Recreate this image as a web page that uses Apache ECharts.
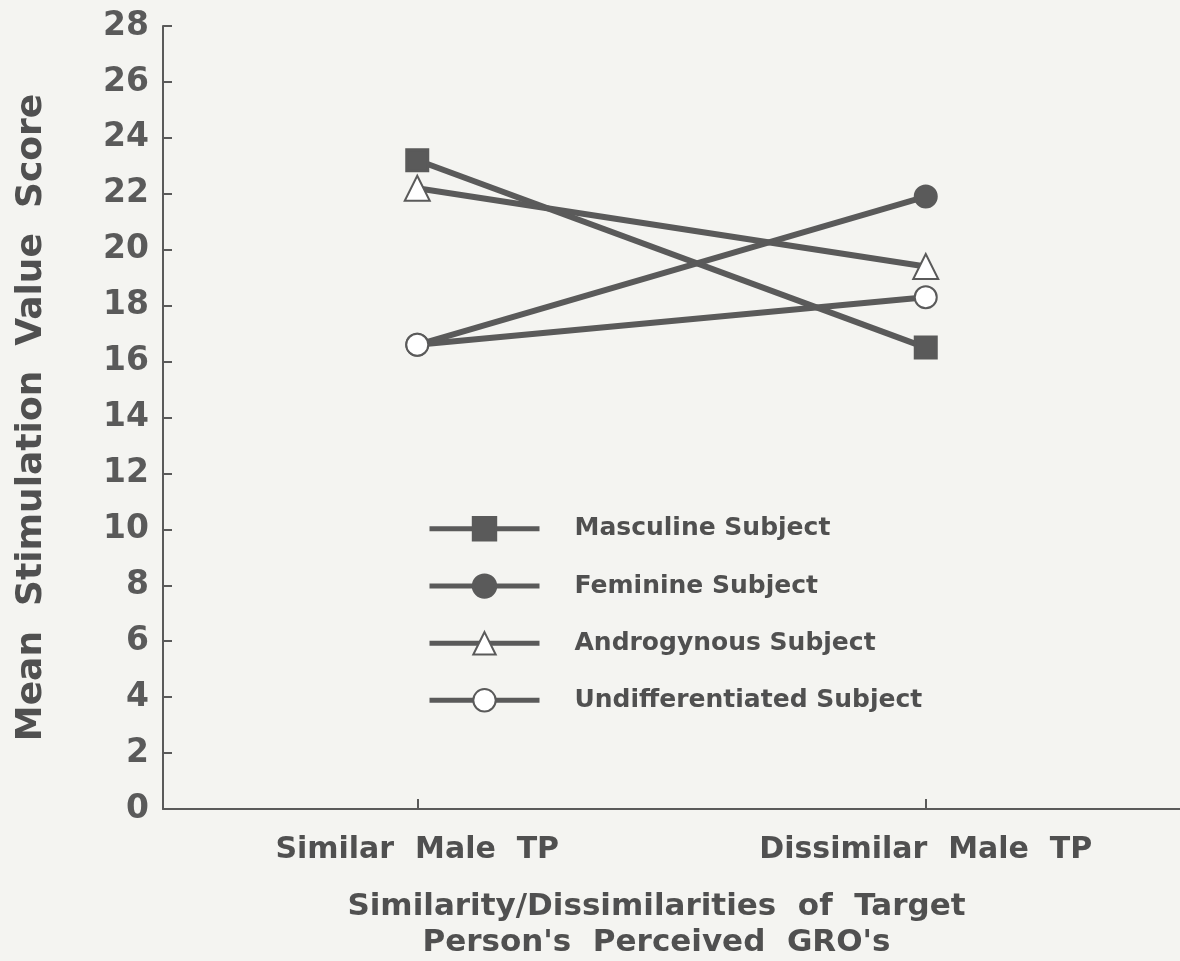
<!DOCTYPE html>
<html>
<head>
<meta charset="utf-8">
<script src="https://cdn.jsdelivr.net/npm/echarts@6/dist/echarts.min.js"></script>
<style>
  html, body { margin: 0; padding: 0; background: #f4f4f1; }
  #chart { width: 1180px; height: 961px; }
</style>
</head>
<body>
<div id="chart"></div>
<script>
// values
var categories = ['Similar  Male  TP', 'Dissimilar  Male  TP'];
var masculine = [23.2, 16.5];
var feminine = [16.6, 21.9];
var androgynous = [22.2, 19.4];
var undifferentiated = [16.6, 18.3];
var seriesNames = ['Masculine Subject', 'Feminine Subject', 'Androgynous Subject', 'Undifferentiated Subject'];

var ink = '#5a5a5a';
var textInk = '#505050';

var chartDom = document.getElementById('chart');
var myChart = echarts.init(chartDom);

function makeSeries(name, data, symbol, size) {
    return {
        name: name,
        type: 'line',
        data: data,
        symbol: symbol,
        symbolSize: size,
        showAllSymbol: true,
        lineStyle: { color: ink, width: 6 },
        itemStyle: { color: ink, borderColor: ink, borderWidth: 3 },
        emphasis: { disabled: true },
        z: 3
    };
}

var option = {
    backgroundColor: '#f4f4f1',
    animation: false,
    textStyle: { fontFamily: 'DejaVu Sans, sans-serif' },
    grid: { left: 163, right: 0, top: 26, bottom: 152, outerBoundsMode: 'none', containLabel: false },
    legend: {
        orient: 'vertical',
        left: 422,
        top: 511,
        itemWidth: 110,
        itemHeight: 28,
        itemGap: 32,
        data: seriesNames,
        lineStyle: { width: 5, color: ink },
        itemStyle: { borderWidth: 3, borderColor: ink },
        textStyle: {
            fontSize: 25,
            fontWeight: 'bold',
            color: textInk,
            padding: [0, 0, 0, 30]
        }
    },
    xAxis: {
        type: 'category',
        data: categories,
        boundaryGap: true,
        name: "Similarity/Dissimilarities  of  Target\nPerson's  Perceived  GRO's",
        nameLocation: 'middle',
        nameGap: 80,
        nameTextStyle: {
            fontSize: 31,
            fontWeight: 'bold',
            color: textInk,
            lineHeight: 36,
            padding: [0, 30, 0, 0],
            verticalAlign: 'top'
        },
        axisLine: { lineStyle: { color: ink, width: 2 } },
        axisTick: { show: true, alignWithLabel: true, inside: true, length: 10, lineStyle: { color: ink, width: 2 } },
        axisLabel: { fontSize: 30, fontWeight: 'bold', color: textInk, margin: 26 },
        splitLine: { show: false }
    },
    yAxis: {
        type: 'value',
        min: 0,
        max: 28,
        interval: 2,
        name: 'Mean  Stimulation  Value  Score',
        nameLocation: 'middle',
        nameGap: 113,
        nameTextStyle: { fontSize: 36, fontWeight: 'bold', color: textInk },
        axisLine: { show: true, lineStyle: { color: ink, width: 2 } },
        axisTick: { show: true, inside: true, length: 9, lineStyle: { color: ink, width: 2 } },
        axisLabel: { fontSize: 33, fontWeight: 'bold', color: '#5a5a5a', margin: 14 },
        splitLine: { show: false }
    },
    series: [
        makeSeries(seriesNames[0], masculine, 'rect', 21),
        makeSeries(seriesNames[1], feminine, 'circle', 21),
        makeSeries(seriesNames[2], androgynous, 'emptyTriangle', 25),
        makeSeries(seriesNames[3], undifferentiated, 'emptyCircle', 22)
    ]
};

option && myChart.setOption(option);
</script>
</body>
</html>
